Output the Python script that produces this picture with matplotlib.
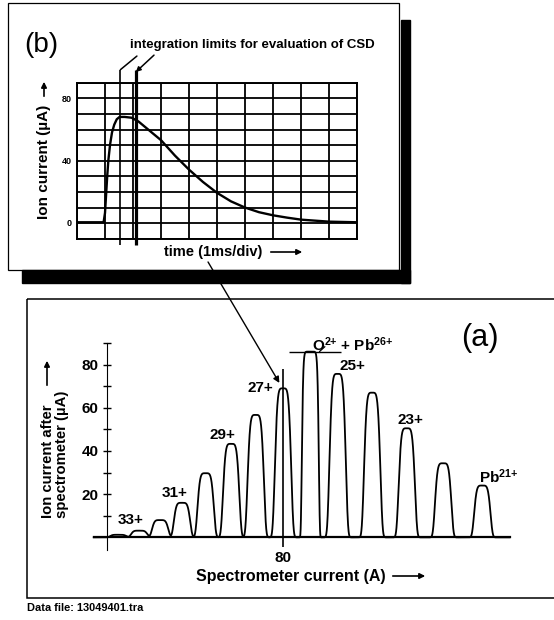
import numpy as np
import matplotlib.pyplot as plt
from matplotlib.patches import Rectangle, ConnectionPatch

plt.rcParams['font.family'] = ['Liberation Sans', 'DejaVu Sans']
plt.rcParams['font.weight'] = 'bold'
plt.rcParams['mathtext.fontset'] = 'custom'
plt.rcParams['mathtext.rm'] = 'Liberation Sans:bold'
plt.rcParams['mathtext.default'] = 'rm'

W, H = 554, 620

# panel (b): ion pulse on the scope (time in divisions, current in uA)
t_div = [0, 0.95, 1.0, 1.04, 1.08, 1.12, 1.18, 1.25, 1.33, 1.42, 1.52, 1.7, 1.95,
         2.2, 2.5, 3.0, 3.5, 4.0, 4.5, 5.0, 5.5, 6.0, 6.5, 7.0, 7.5, 8.0, 9.0, 10.0]
i_uA = [0, 0, 6, 18, 30, 40, 50, 58, 63, 66.5, 68, 68, 67.5,
        65, 60.5, 53, 43, 34, 26, 19, 13.5, 9.5, 6.5, 4.5, 3, 1.7, 0.4, 0]
b_yticks = [0, 40, 80]
int_limits = [1.55, 2.1]

# panel (a): charge state spectrum
charge = [34, 33, 32, 31, 30, 29, 28, 27, 26, 25, 24, 23, 22, 21]
current_A = [61.9, 64.2, 66.5, 68.9, 71.5, 74.3, 77.0, 80.0, 83.0, 86.0, 89.8, 93.6, 97.6, 101.9]
peak_uA = [1.2, 3.1, 8, 16, 29.7, 43.3, 56.7, 69, 86, 75.7, 67, 50.5, 34.3, 24]
saturated = [26]
a_yticks = [20, 40, 60, 80]
labels_a = [('33+', 63.2, 8.1), ('31+', 68.1, 20.6), ('29+', 73.3, 47.4), ('27+', 77.5, 69.0),
            ('25+', 87.6, 79.4), ('23+', 94.0, 54.4), ('Pb$^{21{+}}$', 103.7, 28.1)]

fig = plt.figure(figsize=(W / 100, H / 100), dpi=100)

def fr(x0, y0, x1, y1):
    # pixel box -> figure fraction
    return [x0 / W, 1 - y1 / H, (x1 - x0) / W, (y1 - y0) / H]

arrow = dict(arrowstyle='-|>', lw=1.2, color='black', mutation_scale=8)

# overlay in pixel units for frames and free text
ov = fig.add_axes([0, 0, 1, 1])
ov.set_xlim(0, W)
ov.set_ylim(H, 0)
ov.axis('off')
ov.add_patch(Rectangle((8, 3), 391, 267, fill=False, lw=0.9, ec='black'))
ov.add_patch(Rectangle((22, 270), 388, 13, color='black'))
ov.add_patch(Rectangle((401, 20), 9, 263, color='black'))
ov.add_patch(Rectangle((27, 299), 560, 299, fill=False, lw=1.1, ec='black'))

ov.text(41, 45, '(b)', fontsize=20, weight='normal', ha='center', va='center')
ov.text(252, 45, 'integration limits for evaluation of CSD', fontsize=9.5, ha='center', va='center')
ov.text(44, 219, 'Ion current (µA)', rotation=90, fontsize=11, ha='center', va='bottom')
ov.annotate('', xy=(44, 79), xytext=(44, 99), arrowprops=arrow)
ov.text(213, 252, 'time (1ms/div)', fontsize=10.5, ha='center', va='center')
ov.annotate('', xy=(305, 252), xytext=(268, 252), arrowprops=arrow)

ov.text(480, 338, '(a)', fontsize=22, weight='normal', ha='center', va='center')
ov.text(55, 518, 'Ion current after\nspectrometer (µA)', rotation=90, fontsize=10.7,
        ha='center', va='bottom', multialignment='left', linespacing=0.95)
ov.annotate('', xy=(47, 358), xytext=(47, 388), arrowprops=arrow)
ov.text(291, 576, 'Spectrometer current (A)', fontsize=11.5, ha='center', va='center')
ov.annotate('', xy=(428, 576), xytext=(390, 576), arrowprops=arrow)
ov.text(27, 608, 'Data file: 13049401.tra', fontsize=7.9, ha='left', va='center')

# ---- panel (b)
axb = fig.add_axes(fr(77, 82.7, 357, 239))
axb.set_facecolor('none')
axb.plot(t_div, i_uA, color='black', lw=1.7)
axb.set_xlim(0, 10)
axb.set_ylim(-10.8, 90.1)
axb.set_xticks(np.arange(0, 11), minor=True)
axb.set_yticks(np.linspace(-10.8, 90.1, 11), minor=True)
axb.set_xticks([])
axb.set_yticks(b_yticks)
axb.set_yticklabels([str(v) for v in b_yticks], fontsize=6.5)
axb.tick_params(which='both', length=0)
axb.tick_params(axis='y', pad=4)
axb.grid(which='minor', color='black', lw=1.3)
for s in axb.spines.values():
    s.set_linewidth(1.4)
axb.vlines(int_limits[0], -14.6, 98.5, color='black', lw=1.2, clip_on=False)
axb.vlines(int_limits[1], -14.6, 98.5, color='black', lw=2.3, clip_on=False)
axb.annotate('', xy=(int_limits[0], 98.5), xytext=(2.14, 107.3), annotation_clip=False,
             arrowprops=dict(arrowstyle='-', lw=1.1, color='black', shrinkA=0, shrinkB=0))
axb.annotate('', xy=(int_limits[1], 97), xytext=(2.75, 107.9), annotation_clip=False,
             arrowprops=dict(arrowstyle='-|>', lw=1.1, color='black', mutation_scale=7,
                             shrinkA=0, shrinkB=0))

# ---- panel (a)
axa = fig.add_axes(fr(90, 335, 520, 565))
axa.set_facecolor('none')
x = np.linspace(59.2, 104.9, 3000)
y = np.zeros_like(x)
for q, c, h in zip(charge, current_A, peak_uA):
    p = 10 if q in saturated else 5
    y += h * np.exp(-np.abs((x - c) / 0.95) ** p)
axa.plot(x, y, color='black', lw=1.3)
axa.set_xlim(58.79, 106.04)
axa.set_ylim(-12.8, 93.7)
for s in ['top', 'right']:
    axa.spines[s].set_visible(False)
axa.spines['left'].set_position(('data', 60.66))
axa.spines['left'].set_bounds(-6, 90)
axa.spines['bottom'].set_position(('data', 0))
axa.spines['bottom'].set_bounds(59.2, 104.9)
axa.spines['bottom'].set_linewidth(1.6)
axa.set_yticks(a_yticks)
axa.set_yticklabels([str(v) for v in a_yticks], fontsize=11)
axa.set_yticks(np.arange(10, 91, 10), minor=True)
axa.tick_params(axis='y', which='both', direction='inout', length=6, width=1, pad=3)
axa.set_xticks([80])
axa.set_xticklabels(['80'], fontsize=11)
axa.tick_params(axis='x', length=0, pad=10)
axa.vlines(80, -4.5, 78, color='black', lw=1.2)
axa.hlines(86, 80.66, 86.4, color='black', lw=1.0)
axa.annotate('', xy=(84.0, 86), xytext=(84.6, 88.3),
             arrowprops=dict(arrowstyle='-', lw=0.9, color='black', shrinkA=0, shrinkB=0))
axa.text(87.7, 89.4, 'O$^{2{+}}$ + Pb$^{26{+}}$', fontsize=11, ha='center', va='center')
for txt, lx, ly in labels_a:
    axa.text(lx, ly, txt, fontsize=11, ha='center', va='center')

con = ConnectionPatch(xyA=(0.468, -0.147), coordsA=axb.transAxes,
                      xyB=(79.6, 71.5), coordsB=axa.transData,
                      arrowstyle='-|>', lw=1.0, color='black', mutation_scale=9)
con.set_zorder(10)
fig.add_artist(con)

fig.savefig('out.png', dpi=100)
